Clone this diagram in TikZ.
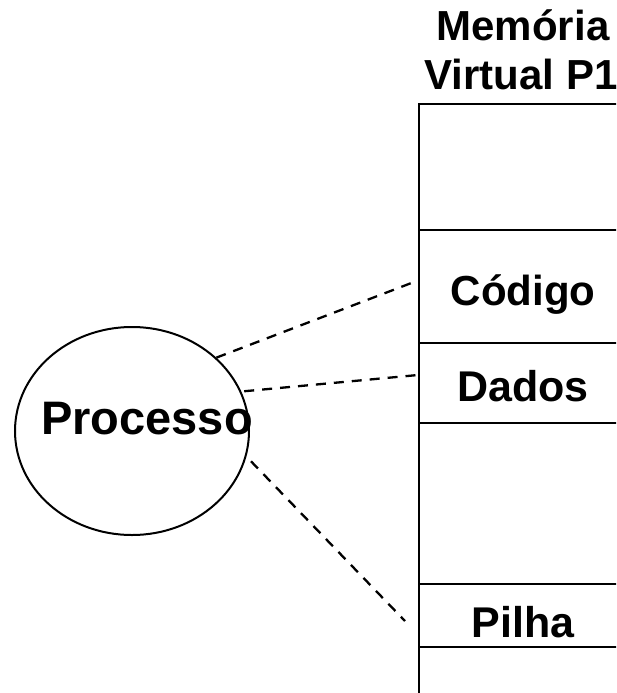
\documentclass[tikz,border=0pt]{standalone}
\usepackage{fontspec}
\setmainfont{Liberation Sans}
\usetikzlibrary{shapes.geometric,calc}

\tikzset{
  lbl/.style={anchor=base, inner sep=0pt, font=\bfseries\fontsize{#1}{#1}\selectfont},
  memline/.style={line width=2.6pt},
  link/.style={line width=2.3pt, dash pattern=on 10pt off 8pt},
}

\begin{document}
\begin{tikzpicture}[x=1pt, y=-1pt]
  \useasboundingbox (0,0) rectangle (616,693);
  \clip (0,0) rectangle (616,693);

  % title of the memory column
  \node[lbl=42] (t1) at (523,41) {Memória};
  \node[lbl=42] (t2) at (521,89) {Virtual P1};

  % virtual memory column (open to the right and bottom)
  \draw[memline] (419,700) -- (419,104) -- (620,104);
  \foreach \yy in {230,343,423,584,647}
    \draw[memline] (419,\yy) -- (620,\yy);

  % region labels
  \node[lbl=42] (code)  at (523,305) {Código};
  \node[lbl=43] (data)  at (523,401) {Dados};
  \node[lbl=43] (stack) at (523,637) {Pilha};

  % the process
  \node[draw, ellipse, line width=2pt, minimum width=234pt, minimum height=208pt,
        inner sep=0pt] (proc) at (132,431) {};
  \node[lbl=47] (ptext) at (147,434) {Processo};

  % mapping links
  \coordinate (c1) at (414,282);
  \coordinate (c2) at (418,375);
  \coordinate (c3) at (405,621);
  \draw[link] (proc.41) -- (c1);
  \draw[link] ($(proc.20)+(3,0)$) -- (c2);
  \draw[link] ($(proc.-15)+(6,0)$) -- (c3);
\end{tikzpicture}
\end{document}
